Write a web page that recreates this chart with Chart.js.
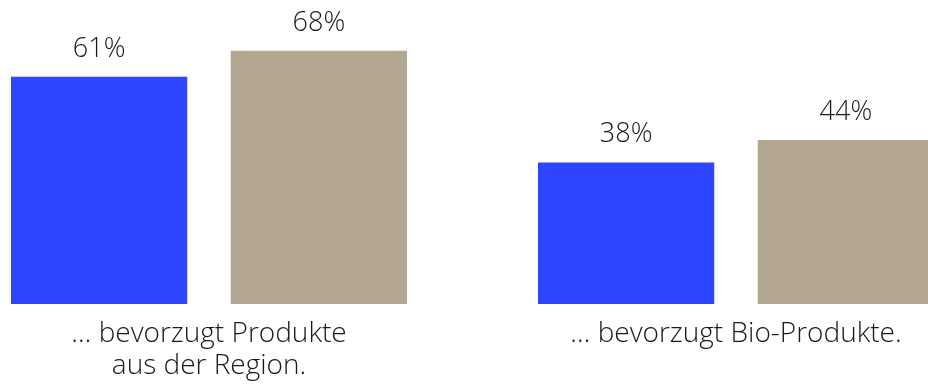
<!DOCTYPE html>
<html>
<head>
<meta charset="utf-8">
<script src="https://cdn.jsdelivr.net/npm/chart.js@4/dist/chart.umd.min.js"></script>
<style>
  html, body { margin: 0; padding: 0; background: #fff; }
  #wrap { width: 928px; height: 390px; }
</style>
</head>
<body>
<div id="wrap"><canvas id="chart"></canvas></div>
<script>
// Kategorien und Werte
const categories = [['… bevorzugt Produkte', 'aus der Region.'], '… bevorzugt Bio-Produkte.'];
const seriesA = [61, 38];
const seriesB = [68, 44];
const seriesColors = ['#2e46ff', '#b4a791'];
const FONT = '"Open Sans", "Segoe UI", sans-serif';

// Prozentwerte über den Balken
const valueLabels = {
    id: 'valueLabels',
    afterDatasetsDraw(chart) {
        const ctx = chart.ctx;
        ctx.save();
        ctx.font = '300 27px ' + FONT;
        ctx.fillStyle = '#1a1a1a';
        ctx.textAlign = 'center';
        ctx.textBaseline = 'alphabetic';
        chart.data.datasets.forEach((ds, di) => {
            chart.getDatasetMeta(di).data.forEach((bar, i) => {
                ctx.fillText(ds.data[i] + '%', bar.x, bar.y - 20);
            });
        });
        ctx.restore();
    }
};

new Chart(document.getElementById('chart'), {
    type: 'bar',
    data: {
        labels: categories,
        datasets: [
            { data: seriesA, backgroundColor: seriesColors[0] },
            { data: seriesB, backgroundColor: seriesColors[1] }
        ]
    },
    options: {
        responsive: true,
        maintainAspectRatio: false,
        animation: false,
        clip: false,
        categoryPercentage: 0.834,
        barPercentage: 0.802,
        layout: { padding: { left: 209, right: 192, top: 0, bottom: 0 } },
        plugins: {
            legend: { display: false },
            tooltip: { enabled: false }
        },
        scales: {
            x: {
                offset: false,
                grid: { display: false },
                border: { display: false },
                afterFit: (scale) => { scale.height = 86; },
                ticks: {
                    autoSkip: false,
                    maxRotation: 0,
                    padding: 6,
                    color: '#1a1a1a',
                    font: { family: FONT, size: 28, weight: 300, lineHeight: 1.15 }
                }
            },
            y: {
                display: false,
                min: 0,
                max: 81.6
            }
        }
    },
    plugins: [valueLabels]
});
</script>
</body>
</html>
